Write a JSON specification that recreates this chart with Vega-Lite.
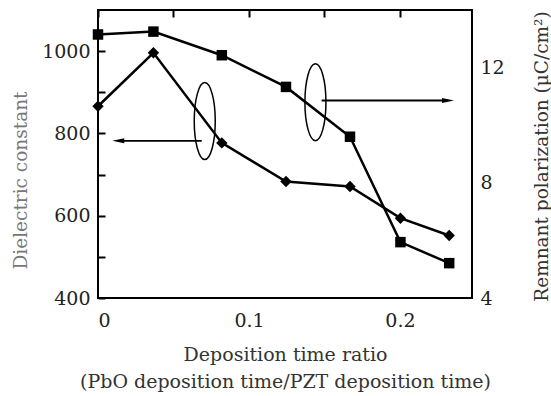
{
  "$schema": "https://vega.github.io/schema/vega-lite/v6.json",
  "width": 374,
  "height": 288,
  "autosize": "none",
  "padding": {"left": 98, "top": 10, "right": 79, "bottom": 98},
  "background": "white",
  "config": {
    "font": "DejaVu Serif",
    "view": {"stroke": "black", "strokeWidth": 2},
    "axis": {
      "domain": false,
      "ticks": false,
      "tickSize": 0,
      "grid": true,
      "gridColor": "black",
      "gridWidth": 2,
      "gridOpacity": 1,
      "gridDash": [7, 2000],
      "labelPadding": 8,
      "labelFont": "DejaVu Serif",
      "labelFontSize": 19,
      "labelColor": "#222",
      "titleFont": "DejaVu Serif",
      "titleFontWeight": "normal",
      "titleFontSize": 18.5,
      "titleColor": "#333"
    }
  },
  "datasets": {
    "meas": [
      {"ratio": 0, "dielectric": 866, "polarization": 13.15},
      {"ratio": 0.0367, "dielectric": 996, "polarization": 13.25},
      {"ratio": 0.082, "dielectric": 777, "polarization": 12.43},
      {"ratio": 0.1245, "dielectric": 683, "polarization": 11.33},
      {"ratio": 0.1669, "dielectric": 671, "polarization": 9.6},
      {"ratio": 0.2003, "dielectric": 594, "polarization": 5.94},
      {"ratio": 0.2326, "dielectric": 552, "polarization": 5.21}
    ],
    "ellipses": [
      {"ratio": 0.0707, "dielectric": 830},
      {"ratio": 0.144, "dielectric": 876}
    ],
    "arrows": [
      {"from": 0.0687, "to": 0.0134, "dielectric": 782, "dir": "left"},
      {"from": 0.1481, "to": 0.2318, "dielectric": 880, "dir": "right"}
    ]
  },
  "encoding": {
    "x": {
      "field": "ratio", "type": "quantitative",
      "scale": {"domain": [0, 0.2477], "nice": false, "zero": false},
      "axis": {
        "values": [0, 0.05, 0.1, 0.15, 0.2],
        "format": "~g",
        "labelExpr": "datum.value == 0.05 || datum.value == 0.15 ? '' : datum.label",
        "labelPadding": 13,
        "title": ["Deposition time ratio", "(PbO deposition time/PZT deposition time)"],
        "titleColor": "#333",
        "titleFontSize": 19,
        "titleLineHeight": 27,
        "titleBaseline": "top",
        "titleY": 47
      }
    }
  },
  "layer": [
    {
      "encoding": {
        "y": {
          "field": "dielectric", "type": "quantitative",
          "scale": {"domain": [400, 1100], "nice": false, "zero": false},
          "axis": {
            "orient": "left",
            "values": [400, 500, 600, 700, 800, 900, 1000],
            "labelExpr": "datum.value % 200 == 0 ? datum.label : ''",
            "format": "d",
            "title": "Dielectric constant",
            "titleColor": "#777",
            "titleAngle": 270,
            "titleBaseline": "middle",
            "titleX": -78,
            "titleY": 170
          }
        }
      },
      "layer": [
        {
          "data": {"name": "meas"},
          "mark": {"type": "line", "color": "black", "strokeWidth": 2.5}
        },
        {
          "data": {"name": "meas"},
          "mark": {"type": "point", "shape": "diamond", "filled": true, "color": "black", "opacity": 1, "size": 130}
        },
        {
          "data": {"name": "ellipses"},
          "mark": {"type": "point", "shape": "M0,-1C0.151,-1,0.273,-0.552,0.273,0C0.273,0.552,0.151,1,0,1C-0.151,1,-0.273,0.552,-0.273,0C-0.273,-0.552,-0.151,-1,0,-1Z", "filled": false, "stroke": "black", "strokeWidth": 1.5, "opacity": 1, "size": 5929}
        },
        {
          "data": {"name": "arrows"},
          "mark": {"type": "rule", "color": "black", "strokeWidth": 1.8},
          "encoding": {
            "x": {"field": "from", "type": "quantitative"},
            "x2": {"field": "to"}
          }
        },
        {
          "data": {"name": "arrows"},
          "mark": {"type": "point", "filled": true, "color": "black", "opacity": 1, "size": 144},
          "encoding": {
            "x": {"field": "to", "type": "quantitative"},
            "shape": {"field": "dir", "type": "nominal", "legend": null,
              "scale": {"domain": ["left", "right"], "range": ["M-1,0L1,-0.42L1,0.42Z", "M1,0L-1,-0.42L-1,0.42Z"]}}
          }
        }
      ]
    },
    {
      "data": {"name": "meas"},
      "encoding": {
        "y": {
          "field": "polarization", "type": "quantitative",
          "scale": {"domain": [4, 14], "nice": false, "zero": false},
          "axis": {
            "orient": "right",
            "values": [4, 6, 8, 10, 12],
            "labelExpr": "datum.value % 4 == 0 ? datum.label : ''",
            "title": "Remnant polarization (µC/cm²)",
            "titleAngle": 270,
            "titleBaseline": "middle",
            "titleX": 69,
            "titleY": 146
          }
        }
      },
      "layer": [
        {
          "mark": {"type": "line", "color": "black", "strokeWidth": 2.5}
        },
        {
          "mark": {"type": "point", "shape": "square", "filled": true, "color": "black", "opacity": 1, "size": 110}
        }
      ]
    }
  ],
  "resolve": {"scale": {"y": "independent"}}
}
